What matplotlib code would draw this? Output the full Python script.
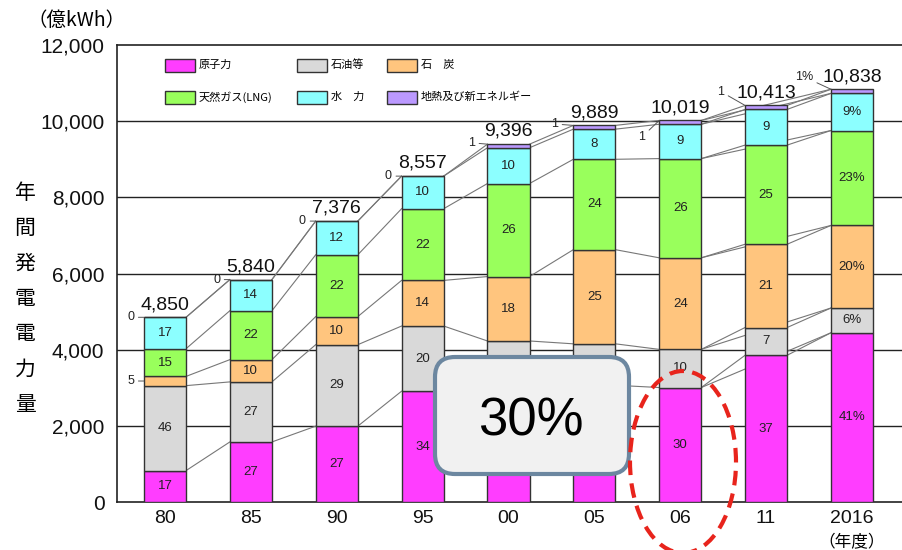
import matplotlib
matplotlib.use("Agg")
import matplotlib.pyplot as plt
import matplotlib.patches as mpatches
from matplotlib.transforms import IdentityTransform
import numpy as np

plt.rcParams['font.family'] = ['Liberation Sans', 'Noto Sans CJK JP', 'DejaVu Sans']

# ---------------- data ----------------
years = ["80", "85", "90", "95", "00", "05", "06", "11", "2016"]
totals = [4850, 5840, 7376, 8557, 9396, 9889, 10019, 10413, 10838]
series_names = ["原子力", "石油等", "石　炭", "天然ガス(LNG)", "水　力", "地熱及び新エネルギー"]
nuclear = [17, 27, 27, 34, 34, 31, 30, 37, 41]
oil = [46, 27, 29, 20, 11, 11, 10, 7, 6]
coal = [5, 10, 10, 14, 18, 25, 24, 21, 20]
lng = [15, 22, 22, 22, 26, 24, 26, 25, 23]
hydro = [17, 14, 12, 10, 10, 8, 9, 9, 9]
geo = [0, 0, 0, 0, 1, 1, 1, 1, 1]
yticks = [0, 2000, 4000, 6000, 8000, 10000, 12000]
highlight_text = "30%"
covered_years = ["00", "05"]  # nuclear/oil labels hidden behind the callout box

colors = ["#FF3DFF", "#D9D9D9", "#FFC57E", "#99FF5C", "#8CFFFF", "#BB99FF"]
series = [nuclear, oil, coal, lng, hydro, geo]

fig = plt.figure(figsize=(9.03, 5.5), dpi=100)
ax = fig.add_axes([117 / 903, 48 / 550, 786 / 903, 457 / 550])

x = np.arange(len(years))
w = 0.49
tot = np.array(totals, dtype=float)
pct = np.array(series, dtype=float)
heights = tot * pct / 100.0
cum = np.vstack([np.zeros(len(years)), np.cumsum(heights, axis=0)])

# grid
for yv in yticks[1:-1]:
    ax.axhline(yv, color="#222222", lw=1.0, zorder=0)

# connector lines (consecutive bars)
for i in range(len(years) - 1):
    for k in range(1, cum.shape[0]):
        ax.plot([x[i] + w / 2, x[i + 1] - w / 2], [cum[k, i], cum[k, i + 1]],
                color="#777777", lw=0.8, zorder=1)
# lines 06 -> 2016
for k in range(1, cum.shape[0]):
    ax.plot([x[6] + w / 2, x[8] - w / 2], [cum[k, 6], cum[k, 8]],
            color="#777777", lw=0.8, zorder=1)

# bars
for s in range(len(series)):
    ax.bar(x, heights[s], bottom=cum[s], width=w, color=colors[s],
           edgecolor="#333333", linewidth=1.0, zorder=3)

# segment labels
for i in range(len(years)):
    suffix = "%" if years[i] == "2016" else ""
    for s in range(5):
        if s == 2 and i == 0:
            continue
        if s < 2 and years[i] in covered_years:
            continue
        yc = cum[s, i] + heights[s, i] / 2
        ax.text(x[i], yc, f"{series[s][i]}{suffix}", ha="center", va="center",
                fontsize=9.5, color="#222222", zorder=5)

# outside labels (small segments)
def side_label(i, yv, txt, dx, dy):
    ax.annotate(txt, xy=(x[i] - w / 2, yv), xytext=(dx, dy), textcoords="offset points",
                ha="right", va="center", fontsize=9, color="#222222",
                arrowprops=dict(arrowstyle="-", color="#555555", lw=0.7,
                                shrinkA=1, shrinkB=0), zorder=5)

side_label(0, cum[3, 0] - heights[2, 0] / 2, str(coal[0]), -7, 0)
offs = [(-7, 0), (-7, 0), (-7, 0), (-7, 0), (-9, 1), (-11, 1), (-10, -12), (-15, 10), (-13, 9)]
for i in range(len(years)):
    txt = str(geo[i]) + ("%" if years[i] == "2016" else "")
    side_label(i, cum[6, i], txt, *offs[i])

# totals
for i in range(len(years)):
    ax.text(x[i], tot[i] + 110, f"{totals[i]:,}", ha="center", va="bottom",
            fontsize=14, color="#111111", zorder=5)

ax.set_xlim(-0.559, 8.594)
ax.set_ylim(0, 12000)
ax.set_yticks(yticks)
ax.set_yticklabels([f"{v:,}" for v in yticks], fontsize=15)
ax.set_xticks(x)
ax.set_xticklabels(years, fontsize=14)
ax.tick_params(axis="both", length=0, colors="#111111")
ax.tick_params(axis="y", pad=9)
ax.tick_params(axis="x", pad=6)
for sp in ["left", "bottom", "top"]:
    ax.spines[sp].set_linewidth(1.2)
    ax.spines[sp].set_color("#222222")
ax.spines["right"].set_visible(False)

fig.text(852 / 903, 1 - 543 / 550, "（年度）", ha="center", va="center", fontsize=12,
         family=["Noto Sans CJK JP"])
fig.text(77 / 903, 1 - 20 / 550, "（億kWh）", ha="center", va="center", fontsize=14,
         family=["Noto Sans CJK JP", "Liberation Sans"])
fig.text(25 / 903, 1 - 299 / 550, "\n".join("年間発電電力量"), ha="center", va="center",
         fontsize=15, linespacing=1.78, family=["Noto Sans CJK JP"])

# legend (manual)
leg_order = [0, 1, 2, 3, 4, 5]
colx = [165, 297, 387]
rowy = [65, 97]
for n, s in enumerate(leg_order):
    r, c = divmod(n, 3)
    x0 = colx[c]
    y0 = 550 - rowy[r]
    fig.patches.append(mpatches.Rectangle((x0, y0 - 6.5), 30, 13, transform=IdentityTransform(),
                                          facecolor=colors[s], edgecolor="#333333", lw=1.0))
    fig.text((x0 + 34) / 903, y0 / 550, series_names[s], ha="left", va="center", fontsize=8,
             family=["Noto Sans CJK JP", "Liberation Sans"])

# callout box
fig.patches.append(mpatches.FancyBboxPatch((435, 550 - 474), 194, 117,
                                           boxstyle="round,pad=0,rounding_size=20",
                                           transform=IdentityTransform(),
                                           facecolor="#F1F1F1", edgecolor="#6C87A0", lw=3, zorder=10))
fig.text(531 / 903, 1 - 422 / 550, highlight_text, ha="center", va="center", fontsize=38,
         color="#000000", zorder=11)

# red dashed ellipse
fig.patches.append(mpatches.Ellipse((683, 550 - 462), 106, 182, transform=IdentityTransform(),
                                    facecolor="none", edgecolor="#E8241C", lw=3,
                                    linestyle=(0, (3.5, 2)), zorder=12))

fig.savefig("out.png", dpi=100)
